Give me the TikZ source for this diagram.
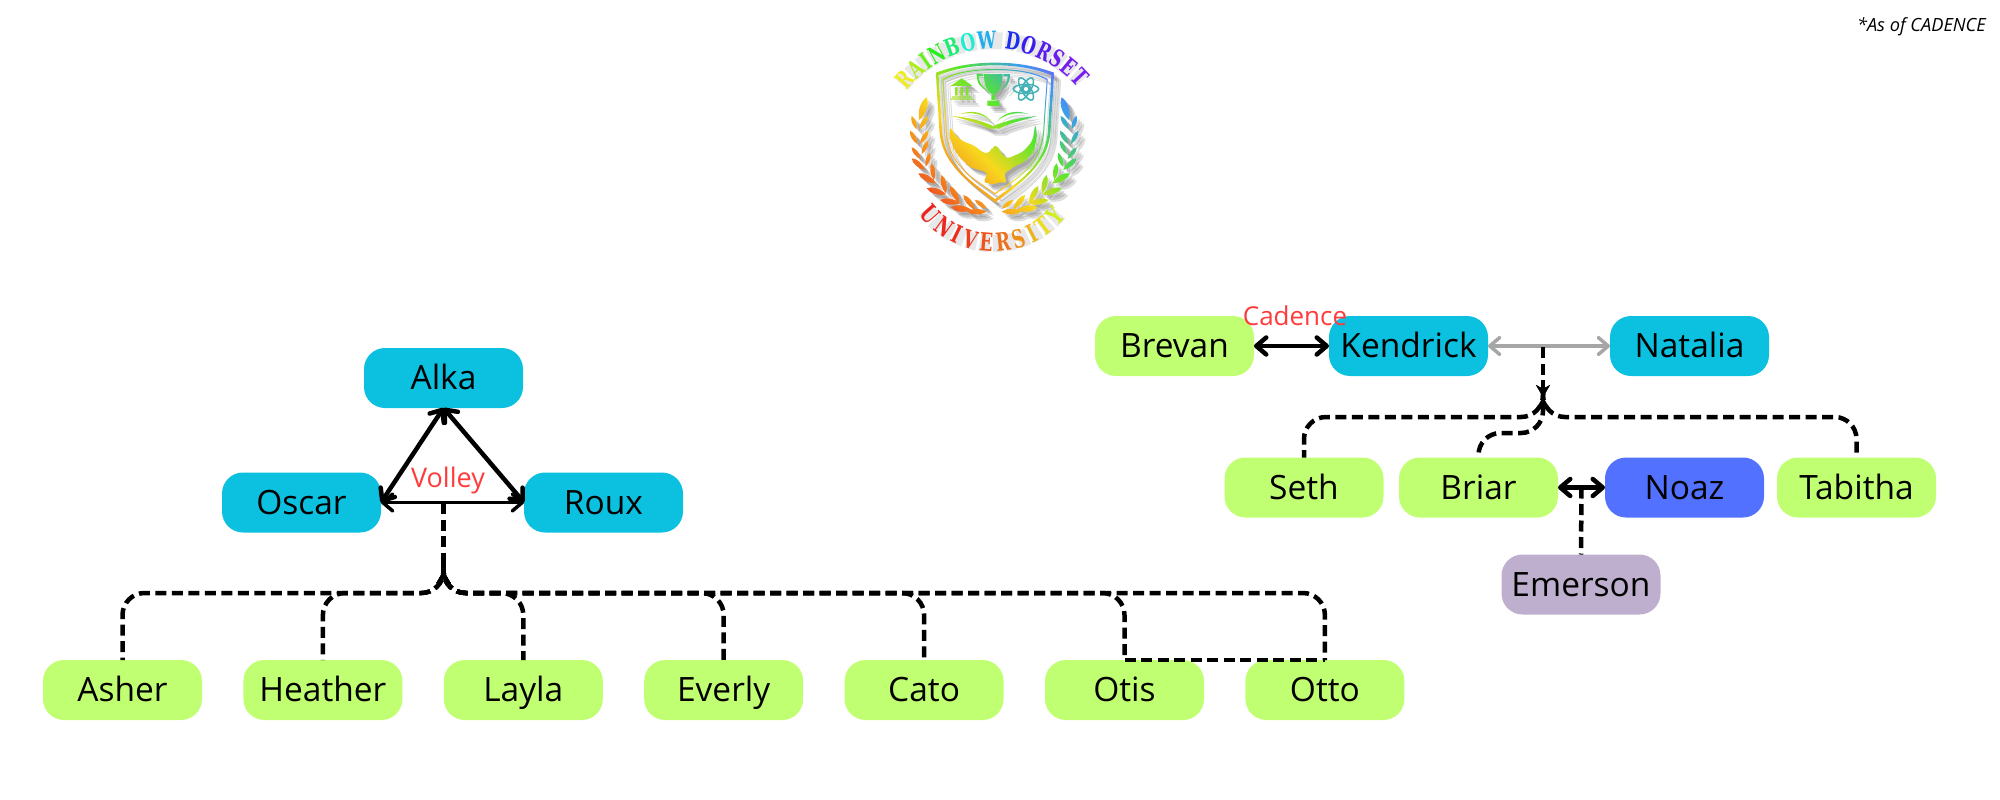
\documentclass[tikz,border=0pt]{standalone}
\usepackage{fontspec}
\usepackage{xcolor}
\usetikzlibrary{arrows.meta,positioning,calc,decorations.text}
\setmainfont{Open Sans}
\newfontfamily\crestfont[FakeStretch=0.7]{DejaVu Serif}
\definecolor{parentc}{HTML}{0CC0DF}
\definecolor{childc}{HTML}{C1FF72}
\definecolor{spousec}{HTML}{5271FF}
\definecolor{grandc}{HTML}{BDAFCD}
\definecolor{tagc}{HTML}{FF3B3B}
\definecolor{tiegrey}{HTML}{A6A6A6}
\definecolor{cr}{HTML}{E52B2B}
\definecolor{co}{HTML}{F5821E}
\definecolor{cy}{HTML}{F7D81E}
\definecolor{cg}{HTML}{55E62E}
\definecolor{cb}{HTML}{3B9BF0}
\definecolor{cp}{HTML}{8B4BF0}
\pgfdeclarehorizontalshading{crestshade}{100bp}{color(0bp)=(cr);color(35bp)=(cr);
  color(41bp)=(co);color(47.5bp)=(cy);color(54.6bp)=(cg);color(61.3bp)=(cb);
  color(66.3bp)=(cp);color(100bp)=(cp)}
\newcommand{\crestink}[1]{\color[Hsb]{#1,.88,.93}}
\newcommand{\topink}[1]{\crestfont\bfseries\fontsize{24}{24}\selectfont\crestink{#1}}
\newcommand{\lowink}[1]{\crestfont\bfseries\fontsize{25}{25}\selectfont\crestink{#1}}
% one laurel leaf, base to tip
\newcommand{\crestleaf}[4]{(#1,#2) .. controls ($(#1,#2)!.4!30:(#3,#4)$) and ($(#1,#2)!.8!14:(#3,#4)$) .. (#3,#4)
  .. controls ($(#1,#2)!.8!-14:(#3,#4)$) and ($(#1,#2)!.4!-30:(#3,#4)$) .. (#1,#2) -- cycle}
% shield outline, pulled in by #1
\newcommand{\crestshield}[1]{({228+#1},{188+#1}) .. controls (290,{165+#1}) and (350,{158+#1}) .. (405,{158+#1})
  .. controls (460,{158+#1}) and (520,{165+#1}) .. ({582-#1},{188+#1})
  .. controls ({580-#1},250) and ({575-#1},300) .. ({572-#1},360)
  .. controls ({565-#1},470) and (470,{525-#1}) .. (405,{578-1.3*#1})
  .. controls (340,{525-#1}) and ({245+#1},470) .. ({238+#1},360)
  .. controls ({235+#1},300) and ({230+#1},250) .. ({228+#1},{188+#1}) -- cycle}
\newcommand{\crestshapes}{
  \crestshield{0} \crestshield{8} \crestshield{19} \crestshield{22}
  \foreach \ax/\ay/\bx/\by in {178/330/200/262,178/358/203/318,170/358/155/318,180/402/205/362,
    172/402/150/362,185/432/205/392,182/447/155/412,197/470/210/428,195/480/155/445,222/510/215/460,
    228/520/175/490,258/550/245/495,258/553/200/535,298/578/270/528,300/580/240/570,345/598/310/555,
    335/600/272/592,380/596/345/570,380/605/322/605}
    {\crestleaf{\ax}{\ay}{\bx}{\by} \crestleaf{{805-\ax}}{\ay}{{805-\bx}}{\by}}
  % bank
  (272,228) -- (305,205) -- (338,228) -- cycle
  (285,232) rectangle (293,257) (301,232) rectangle (309,257) (318,232) rectangle (326,257)
  (276,259) rectangle (334,263) (272,265) rectangle (338,269)
  % trophy
  (372,192) -- (428,192) .. controls (428,230) and (415,250) .. (405,252) -- (395,252) .. controls (385,250) and (372,230) .. (372,192) -- cycle
  (394,254) rectangle (406,270) (382,272) rectangle (418,288)
  (370,192) -- (350,192) .. controls (350,222) and (365,236) .. (379,240) .. controls (368,230) and (357,220) .. (357,199) -- (370,199) -- cycle
  (430,192) -- (450,192) .. controls (450,222) and (435,236) .. (421,240) .. controls (432,230) and (443,220) .. (443,199) -- (430,199) -- cycle
  % book
  (275,318) .. controls (330,322) and (370,335) .. (400,348) .. controls (430,335) and (480,322) .. (532,318)
    .. controls (480,332) and (435,345) .. (418,356) -- (385,356) .. controls (370,345) and (330,332) .. (275,318) -- cycle
  (300,312) .. controls (340,298) and (375,308) .. (395,336) .. controls (375,314) and (340,305) .. (300,312) -- cycle
  (505,312) .. controls (465,298) and (430,308) .. (410,336) .. controls (430,314) and (465,305) .. (505,312) -- cycle
  % eagle
  [rounded corners=4pt] (396,412) -- (412,404) -- (420,425) -- (440,447) -- (490,425) -- (518,392) -- (526,340)
    -- (532,380) -- (526,398) -- (530,405) -- (518,422) -- (520,430) -- (500,445) -- (498,455) -- (470,465) -- (450,480) -- (430,490) -- (442,520)
    -- (415,515) -- (400,526) -- (385,518) -- (368,517) -- (385,490) -- (362,480) -- (345,477) -- (322,468) -- (320,458) -- (298,445) -- (296,432)
    -- (280,420) -- (282,410) -- (268,385) -- (270,348) -- (285,375) -- (310,395) -- (340,405) -- (375,432) -- (392,426) -- cycle
}
\tikzset{
  person/.style={rounded corners=21pt,minimum width=159pt,minimum height=60pt,inner sep=0pt,outer sep=0pt,
    text height=23.9pt,text depth=0pt,font=\fontsize{33.5}{36}\selectfont,text=black},
  parent/.style={person,fill=parentc},
  child/.style={person,fill=childc},
  spouse/.style={person,fill=spousec},
  grand/.style={person,fill=grandc},
  tie/.style={>={Straight Barb[length=10pt,width=17pt,round]},<->,line width=4.5pt,draw=black},
  tiethin/.style={tie,line width=3.5pt},
  tiegray/.style={tie,draw=tiegrey,line width=3.5pt},
  kinline/.style={dash pattern=on 11pt off 5.5pt,line width=4.5pt,draw=black,rounded corners=22pt},
  kin/.style={kinline,{Stealth[length=12pt,width=14pt]}-},
  tag/.style={text=tagc,inner sep=0pt},
  note/.style={font=\fontsize{18.2}{20}\selectfont\itshape,inner sep=0pt},
  crestword/.style={decorate,decoration={text along path,text align={fit to path},text={#1}}},
  crestblur/.style={draw=black,opacity=0.09,line width=17pt,dash pattern=on 10pt off 3pt,xshift=6pt,yshift=-6pt},
}
\begin{document}
\begin{tikzpicture}[x=1pt,y=-1pt]
  \path[use as bounding box] (0,0) rectangle (2000,800);
  % --- crest ---
  \begin{scope}[shift={(860,10)},x=0.3333pt,y=-0.3333pt]
    \coordinate (crest) at (400,446);
    \foreach \o in {3,5,7} \fill[black,opacity=0.13,even odd rule,xshift=\o pt,yshift=-\o pt] \crestshapes;
    \begin{scope}[even odd rule]
      \clip \crestshapes;
      \shade[shading=crestshade,shading angle=45] (-100,-100) rectangle (900,900);
    \end{scope}
    \foreach \a in {0,60,120} \draw[line width=1.5pt,draw=cb!70!cg,rotate around={\a:(498,237)}] (498,237) ellipse (38 and 14);
    \draw[line width=2pt,draw=cb!70!cg] (498,237) circle (10);
  \end{scope}
  \draw[crestblur] ($(crest)+(141:118pt)$) arc[start angle=141,end angle=41,radius=118pt];
  \draw[crestblur] ($(crest)+(217:85pt)$) arc[start angle=217,end angle=321,radius=85pt];
  \path[crestword={|\topink{60}|R|\topink{78}|A|\topink{98}|I|\topink{116}|N|\topink{145}|B|\topink{172}|O|\topink{198}|W |\topink{235}|D|\topink{248}|O|\topink{257}|R|\topink{263}|S|\topink{266}|ET}]
    ($(crest)+(142:110pt)$) arc[start angle=142,end angle=40,radius=110pt];
  \path[crestword={|\lowink{2}|U|\lowink{3}|N|\lowink{5}|I|\lowink{10}|V|\lowink{16}|E|\lowink{24}|R|\lowink{33}|S|\lowink{43}|I|\lowink{55}|T|\lowink{68}|Y}]
    ($(crest)+(217:93pt)$) arc[start angle=217,end angle=321,radius=93pt];
  \node[note,anchor=east] (asof) at (1986,27) {*As of CADENCE};
  % --- left family ---
  \node[parent] (alka) at (443.5,378) {Alka};
  \node[parent] (oscar) at (301.5,502.5) {Oscar};
  \node[parent,right=143pt of oscar] (roux) {Roux};
  \node[child] (asher) at (122.5,690) {Asher};
  \node[child,right=41.4pt of asher] (heather) {Heather};
  \node[child,right=41.4pt of heather] (layla) {Layla};
  \node[child,right=41.4pt of layla] (everly) {Everly};
  \node[child,right=41.4pt of everly] (cato) {Cato};
  \node[child,right=41.4pt of cato] (otis) {Otis};
  \node[child,right=41.4pt of otis] (otto) {Otto};
  \draw[tie] (alka.south) -- (oscar.east);
  \draw[tie] (alka.south) -- (roux.west);
  \draw[tiethin] (oscar.east) -- (roux.west);
  \node[tag,font=\fontsize{27}{30}\selectfont] (volley) at (448,480) {Volley};
  \coordinate (trio) at (443.5,503);
  \coordinate (trioapex) at (443.5,571);
  \coordinate (triobend) at (443.5,593);
  \draw[kinline] (trio) -- (trioapex);
  \foreach \x in {asher,heather,layla,everly,cato,otis,otto} \draw[kin] (trioapex) -- (triobend) -| (\x.north);
  \draw[kinline] (otis.north) -- (otto.north);
  % --- right family ---
  \node[parent] (kendrick) at (1408.5,346) {Kendrick};
  \node[child,left=75pt of kendrick] (brevan) {Brevan};
  \node[parent,right=122pt of kendrick] (natalia) {Natalia};
  \node[child] (seth) at (1304,487.5) {Seth};
  \node[child,right=15.5pt of seth] (briar) {Briar};
  \node[spouse,right=47pt of briar] (noaz) {Noaz};
  \node[child,right=13pt of noaz] (tabitha) {Tabitha};
  \node[grand] (emerson) at (1581,584.5) {Emerson};
  \draw[tie] (brevan) -- (kendrick);
  \draw[tiegray] (kendrick) -- (natalia);
  \node[tag,font=\fontsize{26}{29}\selectfont] (cadence) at (1295,316) {Cadence};
  \coordinate (pair) at (1543,347);
  \coordinate (pairapex) at (1543,397);
  \coordinate (pairbend) at (1543,417);
  \coordinate (briarbend) at (1543,433);
  \draw[kinline] (pair) -- (pairapex);
  \foreach \x in {seth,tabitha} \draw[kin] (pairapex) -- (pairbend) -| (\x.north);
  \draw[kin] (pairapex) -- (briarbend) -| (briar.north);
  \draw[tie] (briar) -- coordinate (briarnoaz) (noaz);
  \draw[kinline] (briarnoaz) -- (emerson.north);
\end{tikzpicture}
\end{document}
